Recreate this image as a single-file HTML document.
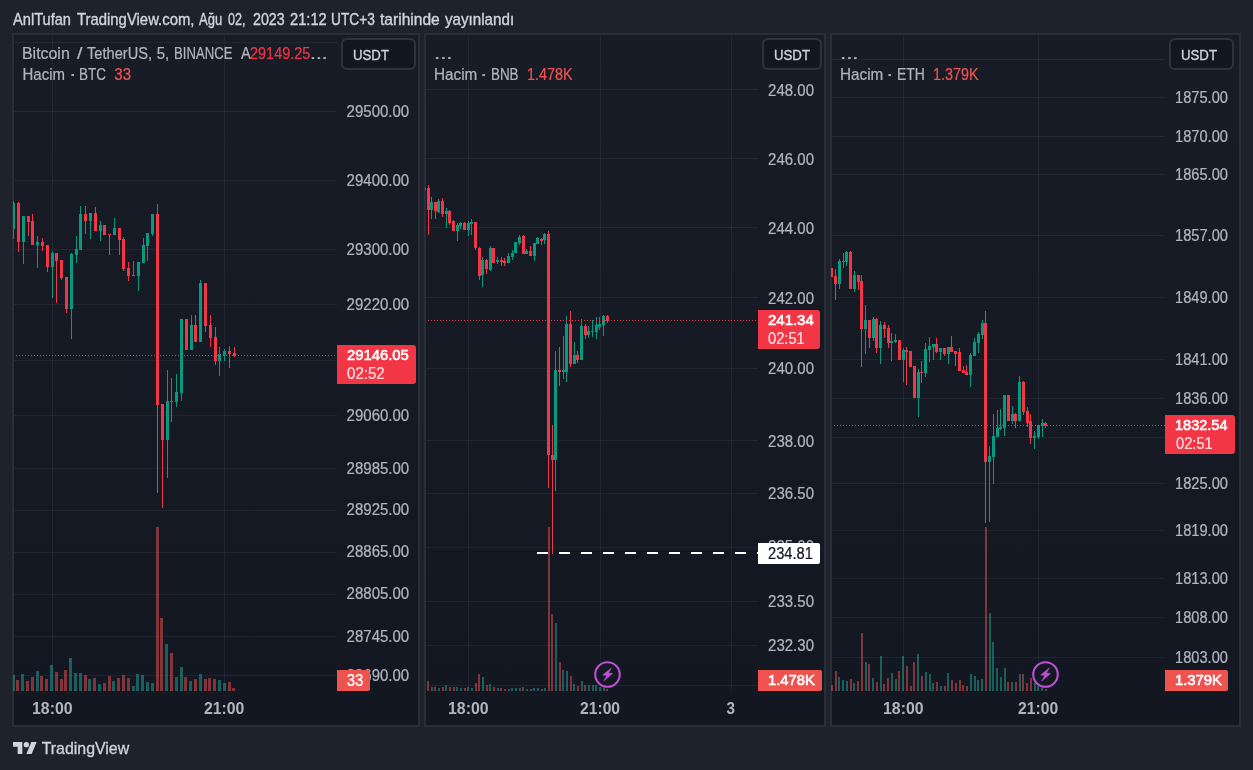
<!DOCTYPE html>
<html><head><meta charset="utf-8"><title>chart</title>
<style>
html,body{margin:0;padding:0}
body{width:1253px;height:770px;background:#1e222d;position:relative;overflow:hidden;font-family:"Liberation Sans",sans-serif}
.p{position:absolute;top:33px;height:690px;border:2px solid #2a2e39;background:linear-gradient(to bottom,#181c27,#131722);box-sizing:content-box}
.t{position:absolute;white-space:nowrap;line-height:normal;transform-origin:0 50%}
.b{position:absolute}
.L{position:absolute;left:0;top:0;width:1253px;height:770px;will-change:transform}
.u{position:absolute;top:38px;height:28px;border:2px solid #2f3341;border-radius:6px;background:#131722;box-sizing:content-box}
svg.g{position:absolute;left:0;top:0}
</style></head><body>
<div class="p" style="left:12px;width:404px"></div>
<div class="p" style="left:424px;width:398px"></div>
<div class="p" style="left:830px;width:407px"></div>
<svg class="g" width="1253" height="770" shape-rendering="crispEdges">
<rect x="14" y="42" width="323" height="1" fill="rgba(240,243,250,0.06)"/>
<rect x="14" y="111" width="323" height="1" fill="rgba(240,243,250,0.06)"/>
<rect x="14" y="180" width="323" height="1" fill="rgba(240,243,250,0.06)"/>
<rect x="14" y="249" width="323" height="1" fill="rgba(240,243,250,0.06)"/>
<rect x="14" y="304" width="323" height="1" fill="rgba(240,243,250,0.06)"/>
<rect x="14" y="360" width="323" height="1" fill="rgba(240,243,250,0.06)"/>
<rect x="14" y="415" width="323" height="1" fill="rgba(240,243,250,0.06)"/>
<rect x="14" y="468" width="323" height="1" fill="rgba(240,243,250,0.06)"/>
<rect x="14" y="510" width="323" height="1" fill="rgba(240,243,250,0.06)"/>
<rect x="14" y="552" width="323" height="1" fill="rgba(240,243,250,0.06)"/>
<rect x="14" y="594" width="323" height="1" fill="rgba(240,243,250,0.06)"/>
<rect x="14" y="636" width="323" height="1" fill="rgba(240,243,250,0.06)"/>
<rect x="14" y="675" width="323" height="1" fill="rgba(240,243,250,0.06)"/>
<rect x="52" y="35" width="1" height="656" fill="rgba(240,243,250,0.06)"/>
<rect x="224" y="35" width="1" height="656" fill="rgba(240,243,250,0.06)"/>
<rect x="13" y="675" width="2" height="16" fill="rgba(38,166,154,0.5)"/>
<rect x="16" y="680" width="3" height="11" fill="rgba(239,83,80,0.5)"/>
<rect x="21" y="674" width="3" height="17" fill="rgba(38,166,154,0.5)"/>
<rect x="26" y="681" width="3" height="10" fill="rgba(239,83,80,0.5)"/>
<rect x="31" y="677" width="3" height="14" fill="rgba(239,83,80,0.5)"/>
<rect x="36" y="671" width="3" height="20" fill="rgba(38,166,154,0.5)"/>
<rect x="40" y="676" width="3" height="15" fill="rgba(239,83,80,0.5)"/>
<rect x="45" y="679" width="3" height="12" fill="rgba(239,83,80,0.5)"/>
<rect x="50" y="665" width="3" height="26" fill="rgba(38,166,154,0.5)"/>
<rect x="55" y="672" width="3" height="19" fill="rgba(239,83,80,0.5)"/>
<rect x="60" y="679" width="3" height="12" fill="rgba(239,83,80,0.5)"/>
<rect x="64" y="670" width="3" height="21" fill="rgba(239,83,80,0.5)"/>
<rect x="69" y="658" width="3" height="33" fill="rgba(38,166,154,0.5)"/>
<rect x="74" y="673" width="3" height="18" fill="rgba(38,166,154,0.5)"/>
<rect x="79" y="673" width="3" height="18" fill="rgba(38,166,154,0.5)"/>
<rect x="84" y="675" width="3" height="16" fill="rgba(239,83,80,0.5)"/>
<rect x="88" y="679" width="3" height="12" fill="rgba(38,166,154,0.5)"/>
<rect x="93" y="678" width="3" height="13" fill="rgba(239,83,80,0.5)"/>
<rect x="98" y="684" width="3" height="7" fill="rgba(38,166,154,0.5)"/>
<rect x="103" y="683" width="3" height="8" fill="rgba(239,83,80,0.5)"/>
<rect x="108" y="676" width="3" height="15" fill="rgba(239,83,80,0.5)"/>
<rect x="112" y="681" width="3" height="10" fill="rgba(38,166,154,0.5)"/>
<rect x="117" y="678" width="3" height="13" fill="rgba(239,83,80,0.5)"/>
<rect x="122" y="675" width="3" height="16" fill="rgba(239,83,80,0.5)"/>
<rect x="127" y="678" width="3" height="13" fill="rgba(239,83,80,0.5)"/>
<rect x="132" y="686" width="3" height="5" fill="rgba(38,166,154,0.5)"/>
<rect x="136" y="674" width="3" height="17" fill="rgba(38,166,154,0.5)"/>
<rect x="141" y="675" width="3" height="16" fill="rgba(38,166,154,0.5)"/>
<rect x="146" y="682" width="3" height="9" fill="rgba(38,166,154,0.5)"/>
<rect x="151" y="683" width="3" height="8" fill="rgba(38,166,154,0.5)"/>
<rect x="156" y="527" width="3" height="164" fill="rgba(239,83,80,0.5)"/>
<rect x="160" y="618" width="3" height="73" fill="rgba(239,83,80,0.5)"/>
<rect x="165" y="644" width="3" height="47" fill="rgba(38,166,154,0.5)"/>
<rect x="170" y="653" width="3" height="38" fill="rgba(239,83,80,0.5)"/>
<rect x="175" y="677" width="3" height="14" fill="rgba(38,166,154,0.5)"/>
<rect x="180" y="667" width="3" height="24" fill="rgba(38,166,154,0.5)"/>
<rect x="184" y="677" width="3" height="14" fill="rgba(239,83,80,0.5)"/>
<rect x="189" y="681" width="3" height="10" fill="rgba(38,166,154,0.5)"/>
<rect x="194" y="679" width="3" height="12" fill="rgba(239,83,80,0.5)"/>
<rect x="199" y="674" width="3" height="17" fill="rgba(38,166,154,0.5)"/>
<rect x="204" y="679" width="3" height="12" fill="rgba(239,83,80,0.5)"/>
<rect x="208" y="678" width="3" height="13" fill="rgba(239,83,80,0.5)"/>
<rect x="213" y="679" width="3" height="12" fill="rgba(239,83,80,0.5)"/>
<rect x="218" y="680" width="3" height="11" fill="rgba(38,166,154,0.5)"/>
<rect x="223" y="683" width="3" height="8" fill="rgba(38,166,154,0.5)"/>
<rect x="228" y="682" width="3" height="9" fill="rgba(239,83,80,0.5)"/>
<rect x="232" y="688" width="3" height="3" fill="rgba(239,83,80,0.5)"/>
<rect x="13" y="201" width="1" height="38" fill="#089981"/>
<rect x="13" y="203" width="2" height="26" fill="#089981"/>
<rect x="18" y="202" width="1" height="50" fill="#f23645"/>
<rect x="17" y="203" width="3" height="39" fill="#f23645"/>
<rect x="23" y="216" width="1" height="48" fill="#089981"/>
<rect x="22" y="216" width="3" height="26" fill="#089981"/>
<rect x="28" y="216" width="1" height="20" fill="#f23645"/>
<rect x="27" y="216" width="3" height="6" fill="#f23645"/>
<rect x="32" y="214" width="1" height="31" fill="#f23645"/>
<rect x="31" y="221" width="3" height="24" fill="#f23645"/>
<rect x="37" y="236" width="1" height="32" fill="#089981"/>
<rect x="36" y="242" width="3" height="3" fill="#089981"/>
<rect x="42" y="238" width="1" height="13" fill="#f23645"/>
<rect x="41" y="242" width="3" height="4" fill="#f23645"/>
<rect x="47" y="245" width="1" height="27" fill="#f23645"/>
<rect x="46" y="245" width="3" height="22" fill="#f23645"/>
<rect x="52" y="251" width="1" height="47" fill="#089981"/>
<rect x="51" y="253" width="3" height="14" fill="#089981"/>
<rect x="56" y="253" width="1" height="50" fill="#f23645"/>
<rect x="55" y="253" width="3" height="8" fill="#f23645"/>
<rect x="61" y="260" width="1" height="20" fill="#f23645"/>
<rect x="60" y="260" width="3" height="18" fill="#f23645"/>
<rect x="66" y="277" width="1" height="36" fill="#f23645"/>
<rect x="65" y="277" width="3" height="32" fill="#f23645"/>
<rect x="71" y="253" width="1" height="86" fill="#089981"/>
<rect x="70" y="254" width="3" height="55" fill="#089981"/>
<rect x="76" y="236" width="1" height="27" fill="#089981"/>
<rect x="75" y="249" width="3" height="6" fill="#089981"/>
<rect x="80" y="206" width="1" height="44" fill="#089981"/>
<rect x="79" y="214" width="3" height="36" fill="#089981"/>
<rect x="85" y="206" width="1" height="28" fill="#f23645"/>
<rect x="84" y="214" width="3" height="7" fill="#f23645"/>
<rect x="90" y="213" width="1" height="26" fill="#089981"/>
<rect x="89" y="213" width="3" height="8" fill="#089981"/>
<rect x="95" y="207" width="1" height="24" fill="#f23645"/>
<rect x="94" y="213" width="3" height="18" fill="#f23645"/>
<rect x="100" y="221" width="1" height="20" fill="#089981"/>
<rect x="99" y="225" width="3" height="6" fill="#089981"/>
<rect x="104" y="225" width="1" height="10" fill="#f23645"/>
<rect x="103" y="225" width="3" height="10" fill="#f23645"/>
<rect x="109" y="234" width="1" height="21" fill="#f23645"/>
<rect x="108" y="234" width="3" height="1" fill="#f23645"/>
<rect x="114" y="218" width="1" height="17" fill="#089981"/>
<rect x="113" y="228" width="3" height="7" fill="#089981"/>
<rect x="119" y="228" width="1" height="27" fill="#f23645"/>
<rect x="118" y="228" width="3" height="12" fill="#f23645"/>
<rect x="123" y="237" width="1" height="34" fill="#f23645"/>
<rect x="122" y="239" width="3" height="30" fill="#f23645"/>
<rect x="128" y="262" width="1" height="19" fill="#f23645"/>
<rect x="127" y="268" width="3" height="8" fill="#f23645"/>
<rect x="133" y="261" width="1" height="15" fill="#089981"/>
<rect x="132" y="275" width="3" height="1" fill="#089981"/>
<rect x="138" y="262" width="1" height="29" fill="#089981"/>
<rect x="137" y="262" width="3" height="14" fill="#089981"/>
<rect x="143" y="238" width="1" height="25" fill="#089981"/>
<rect x="142" y="245" width="3" height="18" fill="#089981"/>
<rect x="147" y="233" width="1" height="28" fill="#089981"/>
<rect x="146" y="233" width="3" height="13" fill="#089981"/>
<rect x="152" y="214" width="1" height="22" fill="#089981"/>
<rect x="151" y="214" width="3" height="20" fill="#089981"/>
<rect x="157" y="204" width="1" height="289" fill="#f23645"/>
<rect x="156" y="214" width="3" height="191" fill="#f23645"/>
<rect x="162" y="404" width="1" height="104" fill="#f23645"/>
<rect x="161" y="404" width="3" height="36" fill="#f23645"/>
<rect x="167" y="370" width="1" height="108" fill="#089981"/>
<rect x="166" y="401" width="3" height="39" fill="#089981"/>
<rect x="171" y="378" width="1" height="44" fill="#f23645"/>
<rect x="170" y="401" width="3" height="1" fill="#f23645"/>
<rect x="176" y="374" width="1" height="33" fill="#089981"/>
<rect x="175" y="392" width="3" height="10" fill="#089981"/>
<rect x="181" y="319" width="1" height="82" fill="#089981"/>
<rect x="180" y="319" width="3" height="74" fill="#089981"/>
<rect x="186" y="319" width="1" height="31" fill="#f23645"/>
<rect x="185" y="319" width="3" height="31" fill="#f23645"/>
<rect x="191" y="315" width="1" height="35" fill="#089981"/>
<rect x="190" y="325" width="3" height="25" fill="#089981"/>
<rect x="195" y="315" width="1" height="27" fill="#f23645"/>
<rect x="194" y="325" width="3" height="17" fill="#f23645"/>
<rect x="200" y="280" width="1" height="62" fill="#089981"/>
<rect x="199" y="283" width="3" height="59" fill="#089981"/>
<rect x="205" y="283" width="1" height="49" fill="#f23645"/>
<rect x="204" y="283" width="3" height="43" fill="#f23645"/>
<rect x="210" y="315" width="1" height="32" fill="#f23645"/>
<rect x="209" y="325" width="3" height="13" fill="#f23645"/>
<rect x="215" y="327" width="1" height="38" fill="#f23645"/>
<rect x="214" y="337" width="3" height="24" fill="#f23645"/>
<rect x="219" y="347" width="1" height="29" fill="#089981"/>
<rect x="218" y="354" width="3" height="7" fill="#089981"/>
<rect x="224" y="349" width="1" height="12" fill="#089981"/>
<rect x="223" y="351" width="3" height="4" fill="#089981"/>
<rect x="229" y="346" width="1" height="22" fill="#f23645"/>
<rect x="228" y="351" width="3" height="3" fill="#f23645"/>
<rect x="234" y="347" width="1" height="10" fill="#f23645"/>
<rect x="233" y="353" width="3" height="3" fill="#f23645"/>
<line x1="16" y1="355.5" x2="337" y2="355.5" stroke="#f23645" stroke-width="1" stroke-dasharray="1 2"/>
<rect x="426" y="89" width="332" height="1" fill="rgba(240,243,250,0.06)"/>
<rect x="426" y="158" width="332" height="1" fill="rgba(240,243,250,0.06)"/>
<rect x="426" y="227" width="332" height="1" fill="rgba(240,243,250,0.06)"/>
<rect x="426" y="297" width="332" height="1" fill="rgba(240,243,250,0.06)"/>
<rect x="426" y="368" width="332" height="1" fill="rgba(240,243,250,0.06)"/>
<rect x="426" y="440" width="332" height="1" fill="rgba(240,243,250,0.06)"/>
<rect x="426" y="493" width="332" height="1" fill="rgba(240,243,250,0.06)"/>
<rect x="426" y="547" width="332" height="1" fill="rgba(240,243,250,0.06)"/>
<rect x="426" y="601" width="332" height="1" fill="rgba(240,243,250,0.06)"/>
<rect x="426" y="645" width="332" height="1" fill="rgba(240,243,250,0.06)"/>
<rect x="426" y="685" width="332" height="1" fill="rgba(240,243,250,0.06)"/>
<rect x="468" y="35" width="1" height="656" fill="rgba(240,243,250,0.06)"/>
<rect x="600" y="35" width="1" height="656" fill="rgba(240,243,250,0.06)"/>
<rect x="731" y="35" width="1" height="656" fill="rgba(240,243,250,0.06)"/>
<rect x="427" y="681" width="2" height="10" fill="rgba(239,83,80,0.5)"/>
<rect x="431" y="687" width="2" height="4" fill="rgba(38,166,154,0.5)"/>
<rect x="434" y="687" width="2" height="4" fill="rgba(239,83,80,0.5)"/>
<rect x="438" y="688" width="2" height="3" fill="rgba(38,166,154,0.5)"/>
<rect x="442" y="687" width="2" height="4" fill="rgba(239,83,80,0.5)"/>
<rect x="445" y="685" width="2" height="6" fill="rgba(38,166,154,0.5)"/>
<rect x="449" y="687" width="2" height="4" fill="rgba(239,83,80,0.5)"/>
<rect x="453" y="687" width="2" height="4" fill="rgba(239,83,80,0.5)"/>
<rect x="456" y="687" width="2" height="4" fill="rgba(38,166,154,0.5)"/>
<rect x="460" y="688" width="2" height="3" fill="rgba(38,166,154,0.5)"/>
<rect x="464" y="688" width="2" height="3" fill="rgba(239,83,80,0.5)"/>
<rect x="467" y="687" width="2" height="4" fill="rgba(38,166,154,0.5)"/>
<rect x="471" y="688" width="2" height="3" fill="rgba(38,166,154,0.5)"/>
<rect x="475" y="683" width="2" height="8" fill="rgba(239,83,80,0.5)"/>
<rect x="478" y="674" width="2" height="17" fill="rgba(239,83,80,0.5)"/>
<rect x="482" y="677" width="2" height="14" fill="rgba(38,166,154,0.5)"/>
<rect x="486" y="685" width="2" height="6" fill="rgba(239,83,80,0.5)"/>
<rect x="489" y="684" width="2" height="7" fill="rgba(38,166,154,0.5)"/>
<rect x="493" y="687" width="2" height="4" fill="rgba(239,83,80,0.5)"/>
<rect x="497" y="688" width="2" height="3" fill="rgba(38,166,154,0.5)"/>
<rect x="500" y="688" width="2" height="3" fill="rgba(239,83,80,0.5)"/>
<rect x="504" y="689" width="2" height="2" fill="rgba(239,83,80,0.5)"/>
<rect x="508" y="689" width="2" height="2" fill="rgba(38,166,154,0.5)"/>
<rect x="511" y="688" width="2" height="3" fill="rgba(38,166,154,0.5)"/>
<rect x="515" y="688" width="2" height="3" fill="rgba(38,166,154,0.5)"/>
<rect x="519" y="688" width="2" height="3" fill="rgba(38,166,154,0.5)"/>
<rect x="522" y="687" width="2" height="4" fill="rgba(239,83,80,0.5)"/>
<rect x="526" y="689" width="2" height="2" fill="rgba(38,166,154,0.5)"/>
<rect x="530" y="689" width="2" height="2" fill="rgba(239,83,80,0.5)"/>
<rect x="533" y="688" width="2" height="3" fill="rgba(38,166,154,0.5)"/>
<rect x="537" y="688" width="2" height="3" fill="rgba(38,166,154,0.5)"/>
<rect x="541" y="689" width="2" height="2" fill="rgba(239,83,80,0.5)"/>
<rect x="544" y="688" width="2" height="3" fill="rgba(38,166,154,0.5)"/>
<rect x="548" y="527" width="2" height="164" fill="rgba(239,83,80,0.5)"/>
<rect x="551" y="614" width="2" height="77" fill="rgba(239,83,80,0.5)"/>
<rect x="555" y="623" width="2" height="68" fill="rgba(38,166,154,0.5)"/>
<rect x="559" y="662" width="2" height="29" fill="rgba(239,83,80,0.5)"/>
<rect x="562" y="670" width="2" height="21" fill="rgba(38,166,154,0.5)"/>
<rect x="566" y="671" width="2" height="20" fill="rgba(38,166,154,0.5)"/>
<rect x="570" y="676" width="2" height="15" fill="rgba(239,83,80,0.5)"/>
<rect x="573" y="684" width="2" height="7" fill="rgba(38,166,154,0.5)"/>
<rect x="577" y="686" width="2" height="5" fill="rgba(239,83,80,0.5)"/>
<rect x="581" y="681" width="2" height="10" fill="rgba(38,166,154,0.5)"/>
<rect x="584" y="685" width="2" height="6" fill="rgba(239,83,80,0.5)"/>
<rect x="588" y="685" width="2" height="6" fill="rgba(38,166,154,0.5)"/>
<rect x="592" y="685" width="2" height="6" fill="rgba(38,166,154,0.5)"/>
<rect x="595" y="685" width="2" height="6" fill="rgba(38,166,154,0.5)"/>
<rect x="599" y="687" width="2" height="4" fill="rgba(38,166,154,0.5)"/>
<rect x="603" y="688" width="2" height="3" fill="rgba(38,166,154,0.5)"/>
<rect x="606" y="689" width="2" height="2" fill="rgba(239,83,80,0.5)"/>
<rect x="425" y="188" width="1" height="2" fill="#089981"/>
<rect x="428" y="185" width="1" height="50" fill="#f23645"/>
<rect x="427" y="188" width="3" height="22" fill="#f23645"/>
<rect x="431" y="197" width="1" height="22" fill="#089981"/>
<rect x="430" y="202" width="3" height="8" fill="#089981"/>
<rect x="435" y="202" width="1" height="17" fill="#f23645"/>
<rect x="434" y="202" width="3" height="9" fill="#f23645"/>
<rect x="438" y="199" width="1" height="14" fill="#089981"/>
<rect x="437" y="201" width="3" height="11" fill="#089981"/>
<rect x="442" y="198" width="1" height="19" fill="#f23645"/>
<rect x="441" y="201" width="3" height="13" fill="#f23645"/>
<rect x="446" y="208" width="1" height="20" fill="#089981"/>
<rect x="445" y="211" width="3" height="3" fill="#089981"/>
<rect x="449" y="210" width="1" height="15" fill="#f23645"/>
<rect x="448" y="211" width="3" height="12" fill="#f23645"/>
<rect x="453" y="220" width="1" height="11" fill="#f23645"/>
<rect x="452" y="221" width="3" height="10" fill="#f23645"/>
<rect x="457" y="223" width="1" height="18" fill="#089981"/>
<rect x="456" y="225" width="3" height="6" fill="#089981"/>
<rect x="460" y="222" width="1" height="7" fill="#089981"/>
<rect x="459" y="223" width="3" height="3" fill="#089981"/>
<rect x="464" y="222" width="1" height="8" fill="#f23645"/>
<rect x="463" y="223" width="3" height="7" fill="#f23645"/>
<rect x="468" y="221" width="1" height="15" fill="#089981"/>
<rect x="467" y="223" width="3" height="7" fill="#089981"/>
<rect x="471" y="219" width="1" height="16" fill="#089981"/>
<rect x="470" y="222" width="3" height="2" fill="#089981"/>
<rect x="475" y="222" width="1" height="28" fill="#f23645"/>
<rect x="474" y="222" width="3" height="26" fill="#f23645"/>
<rect x="479" y="247" width="1" height="33" fill="#f23645"/>
<rect x="478" y="248" width="3" height="28" fill="#f23645"/>
<rect x="482" y="257" width="1" height="30" fill="#089981"/>
<rect x="481" y="260" width="3" height="15" fill="#089981"/>
<rect x="486" y="259" width="1" height="15" fill="#f23645"/>
<rect x="485" y="260" width="3" height="9" fill="#f23645"/>
<rect x="490" y="246" width="1" height="25" fill="#089981"/>
<rect x="489" y="248" width="3" height="22" fill="#089981"/>
<rect x="493" y="248" width="1" height="15" fill="#f23645"/>
<rect x="492" y="248" width="3" height="15" fill="#f23645"/>
<rect x="497" y="257" width="1" height="7" fill="#089981"/>
<rect x="496" y="260" width="3" height="2" fill="#089981"/>
<rect x="501" y="257" width="1" height="9" fill="#f23645"/>
<rect x="500" y="260" width="3" height="2" fill="#f23645"/>
<rect x="504" y="258" width="1" height="8" fill="#f23645"/>
<rect x="503" y="261" width="3" height="2" fill="#f23645"/>
<rect x="508" y="253" width="1" height="10" fill="#089981"/>
<rect x="507" y="256" width="3" height="7" fill="#089981"/>
<rect x="512" y="250" width="1" height="10" fill="#089981"/>
<rect x="511" y="253" width="3" height="4" fill="#089981"/>
<rect x="515" y="242" width="1" height="11" fill="#089981"/>
<rect x="514" y="242" width="3" height="11" fill="#089981"/>
<rect x="519" y="235" width="1" height="10" fill="#089981"/>
<rect x="518" y="237" width="3" height="6" fill="#089981"/>
<rect x="523" y="235" width="1" height="19" fill="#f23645"/>
<rect x="522" y="236" width="3" height="18" fill="#f23645"/>
<rect x="526" y="249" width="1" height="5" fill="#089981"/>
<rect x="525" y="251" width="3" height="3" fill="#089981"/>
<rect x="530" y="246" width="1" height="10" fill="#f23645"/>
<rect x="529" y="251" width="3" height="5" fill="#f23645"/>
<rect x="534" y="243" width="1" height="18" fill="#089981"/>
<rect x="533" y="243" width="3" height="13" fill="#089981"/>
<rect x="537" y="237" width="1" height="7" fill="#089981"/>
<rect x="536" y="238" width="3" height="6" fill="#089981"/>
<rect x="541" y="238" width="1" height="7" fill="#f23645"/>
<rect x="540" y="239" width="3" height="2" fill="#f23645"/>
<rect x="544" y="233" width="1" height="11" fill="#089981"/>
<rect x="543" y="234" width="3" height="6" fill="#089981"/>
<rect x="548" y="231" width="1" height="257" fill="#f23645"/>
<rect x="547" y="234" width="3" height="221" fill="#f23645"/>
<rect x="552" y="425" width="1" height="129" fill="#f23645"/>
<rect x="551" y="455" width="3" height="5" fill="#f23645"/>
<rect x="555" y="351" width="1" height="140" fill="#089981"/>
<rect x="554" y="370" width="3" height="90" fill="#089981"/>
<rect x="559" y="347" width="1" height="39" fill="#f23645"/>
<rect x="558" y="370" width="3" height="2" fill="#f23645"/>
<rect x="563" y="336" width="1" height="43" fill="#089981"/>
<rect x="562" y="370" width="3" height="2" fill="#089981"/>
<rect x="566" y="316" width="1" height="66" fill="#089981"/>
<rect x="565" y="324" width="3" height="48" fill="#089981"/>
<rect x="570" y="311" width="1" height="56" fill="#f23645"/>
<rect x="569" y="324" width="3" height="40" fill="#f23645"/>
<rect x="574" y="342" width="1" height="22" fill="#089981"/>
<rect x="573" y="355" width="3" height="9" fill="#089981"/>
<rect x="577" y="351" width="1" height="12" fill="#f23645"/>
<rect x="576" y="355" width="3" height="5" fill="#f23645"/>
<rect x="581" y="319" width="1" height="41" fill="#089981"/>
<rect x="580" y="326" width="3" height="34" fill="#089981"/>
<rect x="585" y="324" width="1" height="15" fill="#f23645"/>
<rect x="584" y="326" width="3" height="9" fill="#f23645"/>
<rect x="588" y="326" width="1" height="12" fill="#089981"/>
<rect x="587" y="331" width="3" height="4" fill="#089981"/>
<rect x="592" y="320" width="1" height="17" fill="#089981"/>
<rect x="591" y="331" width="3" height="1" fill="#089981"/>
<rect x="596" y="317" width="1" height="22" fill="#089981"/>
<rect x="595" y="325" width="3" height="7" fill="#089981"/>
<rect x="599" y="317" width="1" height="13" fill="#089981"/>
<rect x="598" y="324" width="3" height="3" fill="#089981"/>
<rect x="603" y="315" width="1" height="21" fill="#089981"/>
<rect x="602" y="316" width="3" height="9" fill="#089981"/>
<rect x="607" y="315" width="1" height="8" fill="#f23645"/>
<rect x="606" y="316" width="3" height="5" fill="#f23645"/>
<line x1="428" y1="320.5" x2="758" y2="320.5" stroke="#f23645" stroke-width="1" stroke-dasharray="1 2"/>
<line x1="537" y1="553" x2="758" y2="553" stroke="#fff" stroke-width="2" stroke-dasharray="10.5 11.5"/>
<rect x="832" y="59" width="333" height="1" fill="rgba(240,243,250,0.06)"/>
<rect x="832" y="97" width="333" height="1" fill="rgba(240,243,250,0.06)"/>
<rect x="832" y="136" width="333" height="1" fill="rgba(240,243,250,0.06)"/>
<rect x="832" y="174" width="333" height="1" fill="rgba(240,243,250,0.06)"/>
<rect x="832" y="235" width="333" height="1" fill="rgba(240,243,250,0.06)"/>
<rect x="832" y="297" width="333" height="1" fill="rgba(240,243,250,0.06)"/>
<rect x="832" y="359" width="333" height="1" fill="rgba(240,243,250,0.06)"/>
<rect x="832" y="398" width="333" height="1" fill="rgba(240,243,250,0.06)"/>
<rect x="832" y="437" width="333" height="1" fill="rgba(240,243,250,0.06)"/>
<rect x="832" y="483" width="333" height="1" fill="rgba(240,243,250,0.06)"/>
<rect x="832" y="530" width="333" height="1" fill="rgba(240,243,250,0.06)"/>
<rect x="832" y="578" width="333" height="1" fill="rgba(240,243,250,0.06)"/>
<rect x="832" y="617" width="333" height="1" fill="rgba(240,243,250,0.06)"/>
<rect x="832" y="657" width="333" height="1" fill="rgba(240,243,250,0.06)"/>
<rect x="903" y="35" width="1" height="656" fill="rgba(240,243,250,0.06)"/>
<rect x="1038" y="35" width="1" height="656" fill="rgba(240,243,250,0.06)"/>
<rect x="831" y="685" width="2" height="6" fill="rgba(239,83,80,0.5)"/>
<rect x="835" y="671" width="2" height="20" fill="rgba(239,83,80,0.5)"/>
<rect x="838" y="677" width="2" height="14" fill="rgba(38,166,154,0.5)"/>
<rect x="842" y="680" width="2" height="11" fill="rgba(38,166,154,0.5)"/>
<rect x="846" y="681" width="2" height="10" fill="rgba(38,166,154,0.5)"/>
<rect x="850" y="679" width="2" height="12" fill="rgba(239,83,80,0.5)"/>
<rect x="853" y="683" width="2" height="8" fill="rgba(38,166,154,0.5)"/>
<rect x="857" y="681" width="2" height="10" fill="rgba(239,83,80,0.5)"/>
<rect x="861" y="633" width="2" height="58" fill="rgba(239,83,80,0.5)"/>
<rect x="865" y="662" width="2" height="29" fill="rgba(38,166,154,0.5)"/>
<rect x="868" y="664" width="2" height="27" fill="rgba(239,83,80,0.5)"/>
<rect x="872" y="678" width="2" height="13" fill="rgba(38,166,154,0.5)"/>
<rect x="876" y="682" width="2" height="9" fill="rgba(239,83,80,0.5)"/>
<rect x="880" y="656" width="2" height="35" fill="rgba(38,166,154,0.5)"/>
<rect x="883" y="684" width="2" height="7" fill="rgba(239,83,80,0.5)"/>
<rect x="887" y="678" width="2" height="13" fill="rgba(239,83,80,0.5)"/>
<rect x="891" y="673" width="2" height="18" fill="rgba(38,166,154,0.5)"/>
<rect x="895" y="679" width="2" height="12" fill="rgba(38,166,154,0.5)"/>
<rect x="898" y="671" width="2" height="20" fill="rgba(239,83,80,0.5)"/>
<rect x="902" y="656" width="2" height="35" fill="rgba(38,166,154,0.5)"/>
<rect x="906" y="666" width="2" height="25" fill="rgba(239,83,80,0.5)"/>
<rect x="910" y="686" width="2" height="5" fill="rgba(239,83,80,0.5)"/>
<rect x="913" y="662" width="2" height="29" fill="rgba(239,83,80,0.5)"/>
<rect x="917" y="654" width="2" height="37" fill="rgba(38,166,154,0.5)"/>
<rect x="921" y="676" width="2" height="15" fill="rgba(239,83,80,0.5)"/>
<rect x="925" y="672" width="2" height="19" fill="rgba(38,166,154,0.5)"/>
<rect x="929" y="674" width="2" height="17" fill="rgba(38,166,154,0.5)"/>
<rect x="932" y="683" width="2" height="8" fill="rgba(38,166,154,0.5)"/>
<rect x="936" y="682" width="2" height="9" fill="rgba(239,83,80,0.5)"/>
<rect x="940" y="686" width="2" height="5" fill="rgba(38,166,154,0.5)"/>
<rect x="944" y="686" width="2" height="5" fill="rgba(239,83,80,0.5)"/>
<rect x="947" y="673" width="2" height="18" fill="rgba(38,166,154,0.5)"/>
<rect x="951" y="680" width="2" height="11" fill="rgba(239,83,80,0.5)"/>
<rect x="955" y="683" width="2" height="8" fill="rgba(239,83,80,0.5)"/>
<rect x="959" y="680" width="2" height="11" fill="rgba(239,83,80,0.5)"/>
<rect x="962" y="685" width="2" height="6" fill="rgba(239,83,80,0.5)"/>
<rect x="966" y="686" width="2" height="5" fill="rgba(239,83,80,0.5)"/>
<rect x="970" y="674" width="2" height="17" fill="rgba(38,166,154,0.5)"/>
<rect x="974" y="676" width="2" height="15" fill="rgba(38,166,154,0.5)"/>
<rect x="977" y="680" width="2" height="11" fill="rgba(38,166,154,0.5)"/>
<rect x="981" y="679" width="2" height="12" fill="rgba(38,166,154,0.5)"/>
<rect x="985" y="527" width="2" height="164" fill="rgba(239,83,80,0.5)"/>
<rect x="989" y="613" width="2" height="78" fill="rgba(38,166,154,0.5)"/>
<rect x="992" y="642" width="2" height="49" fill="rgba(38,166,154,0.5)"/>
<rect x="996" y="668" width="2" height="23" fill="rgba(38,166,154,0.5)"/>
<rect x="1000" y="677" width="2" height="14" fill="rgba(38,166,154,0.5)"/>
<rect x="1004" y="668" width="2" height="23" fill="rgba(38,166,154,0.5)"/>
<rect x="1007" y="682" width="2" height="9" fill="rgba(239,83,80,0.5)"/>
<rect x="1011" y="682" width="2" height="9" fill="rgba(38,166,154,0.5)"/>
<rect x="1015" y="682" width="2" height="9" fill="rgba(239,83,80,0.5)"/>
<rect x="1019" y="674" width="2" height="17" fill="rgba(38,166,154,0.5)"/>
<rect x="1022" y="674" width="2" height="17" fill="rgba(239,83,80,0.5)"/>
<rect x="1026" y="683" width="2" height="8" fill="rgba(239,83,80,0.5)"/>
<rect x="1030" y="678" width="2" height="13" fill="rgba(239,83,80,0.5)"/>
<rect x="1034" y="683" width="2" height="8" fill="rgba(38,166,154,0.5)"/>
<rect x="1037" y="686" width="2" height="5" fill="rgba(38,166,154,0.5)"/>
<rect x="1041" y="688" width="2" height="3" fill="rgba(38,166,154,0.5)"/>
<rect x="1045" y="689" width="2" height="2" fill="rgba(239,83,80,0.5)"/>
<rect x="831" y="268" width="1" height="9" fill="#f23645"/>
<rect x="831" y="268" width="2" height="9" fill="#f23645"/>
<rect x="835" y="269" width="1" height="31" fill="#f23645"/>
<rect x="834" y="276" width="3" height="8" fill="#f23645"/>
<rect x="839" y="259" width="1" height="30" fill="#089981"/>
<rect x="838" y="261" width="3" height="23" fill="#089981"/>
<rect x="843" y="253" width="1" height="15" fill="#089981"/>
<rect x="842" y="261" width="3" height="1" fill="#089981"/>
<rect x="846" y="251" width="1" height="15" fill="#089981"/>
<rect x="845" y="252" width="3" height="10" fill="#089981"/>
<rect x="850" y="251" width="1" height="38" fill="#f23645"/>
<rect x="849" y="252" width="3" height="37" fill="#f23645"/>
<rect x="854" y="271" width="1" height="21" fill="#089981"/>
<rect x="853" y="275" width="3" height="14" fill="#089981"/>
<rect x="858" y="275" width="1" height="15" fill="#f23645"/>
<rect x="857" y="275" width="3" height="7" fill="#f23645"/>
<rect x="861" y="275" width="1" height="92" fill="#f23645"/>
<rect x="860" y="281" width="3" height="48" fill="#f23645"/>
<rect x="865" y="305" width="1" height="49" fill="#089981"/>
<rect x="864" y="320" width="3" height="9" fill="#089981"/>
<rect x="869" y="320" width="1" height="28" fill="#f23645"/>
<rect x="868" y="320" width="3" height="18" fill="#f23645"/>
<rect x="873" y="317" width="1" height="24" fill="#089981"/>
<rect x="872" y="319" width="3" height="19" fill="#089981"/>
<rect x="876" y="318" width="1" height="35" fill="#f23645"/>
<rect x="875" y="319" width="3" height="29" fill="#f23645"/>
<rect x="880" y="321" width="1" height="43" fill="#089981"/>
<rect x="879" y="325" width="3" height="23" fill="#089981"/>
<rect x="884" y="322" width="1" height="16" fill="#f23645"/>
<rect x="883" y="325" width="3" height="4" fill="#f23645"/>
<rect x="888" y="325" width="1" height="23" fill="#f23645"/>
<rect x="887" y="328" width="3" height="15" fill="#f23645"/>
<rect x="891" y="333" width="1" height="28" fill="#089981"/>
<rect x="890" y="341" width="3" height="2" fill="#089981"/>
<rect x="895" y="334" width="1" height="9" fill="#089981"/>
<rect x="894" y="340" width="3" height="2" fill="#089981"/>
<rect x="899" y="340" width="1" height="20" fill="#f23645"/>
<rect x="898" y="340" width="3" height="20" fill="#f23645"/>
<rect x="903" y="348" width="1" height="34" fill="#089981"/>
<rect x="902" y="350" width="3" height="10" fill="#089981"/>
<rect x="906" y="347" width="1" height="38" fill="#f23645"/>
<rect x="905" y="350" width="3" height="2" fill="#f23645"/>
<rect x="910" y="351" width="1" height="16" fill="#f23645"/>
<rect x="909" y="351" width="3" height="16" fill="#f23645"/>
<rect x="914" y="366" width="1" height="32" fill="#f23645"/>
<rect x="913" y="366" width="3" height="32" fill="#f23645"/>
<rect x="918" y="369" width="1" height="48" fill="#089981"/>
<rect x="917" y="372" width="3" height="26" fill="#089981"/>
<rect x="921" y="361" width="1" height="22" fill="#f23645"/>
<rect x="920" y="372" width="3" height="1" fill="#f23645"/>
<rect x="925" y="343" width="1" height="34" fill="#089981"/>
<rect x="924" y="349" width="3" height="24" fill="#089981"/>
<rect x="929" y="337" width="1" height="25" fill="#089981"/>
<rect x="928" y="346" width="3" height="4" fill="#089981"/>
<rect x="933" y="344" width="1" height="16" fill="#089981"/>
<rect x="932" y="344" width="3" height="3" fill="#089981"/>
<rect x="936" y="338" width="1" height="15" fill="#f23645"/>
<rect x="935" y="344" width="3" height="8" fill="#f23645"/>
<rect x="940" y="348" width="1" height="12" fill="#089981"/>
<rect x="939" y="348" width="3" height="4" fill="#089981"/>
<rect x="944" y="348" width="1" height="8" fill="#f23645"/>
<rect x="943" y="348" width="3" height="6" fill="#f23645"/>
<rect x="948" y="347" width="1" height="17" fill="#089981"/>
<rect x="947" y="347" width="3" height="7" fill="#089981"/>
<rect x="951" y="336" width="1" height="16" fill="#f23645"/>
<rect x="950" y="347" width="3" height="5" fill="#f23645"/>
<rect x="955" y="351" width="1" height="15" fill="#f23645"/>
<rect x="954" y="351" width="3" height="3" fill="#f23645"/>
<rect x="959" y="348" width="1" height="23" fill="#f23645"/>
<rect x="958" y="352" width="3" height="19" fill="#f23645"/>
<rect x="963" y="366" width="1" height="7" fill="#f23645"/>
<rect x="962" y="370" width="3" height="3" fill="#f23645"/>
<rect x="966" y="365" width="1" height="10" fill="#f23645"/>
<rect x="965" y="372" width="3" height="3" fill="#f23645"/>
<rect x="970" y="353" width="1" height="34" fill="#089981"/>
<rect x="969" y="355" width="3" height="20" fill="#089981"/>
<rect x="974" y="338" width="1" height="18" fill="#089981"/>
<rect x="973" y="342" width="3" height="14" fill="#089981"/>
<rect x="978" y="332" width="1" height="21" fill="#089981"/>
<rect x="977" y="334" width="3" height="9" fill="#089981"/>
<rect x="982" y="320" width="1" height="19" fill="#089981"/>
<rect x="981" y="323" width="3" height="12" fill="#089981"/>
<rect x="985" y="311" width="1" height="212" fill="#f23645"/>
<rect x="984" y="323" width="3" height="139" fill="#f23645"/>
<rect x="989" y="446" width="1" height="76" fill="#089981"/>
<rect x="988" y="456" width="3" height="6" fill="#089981"/>
<rect x="993" y="414" width="1" height="70" fill="#089981"/>
<rect x="992" y="436" width="3" height="21" fill="#089981"/>
<rect x="997" y="410" width="1" height="27" fill="#089981"/>
<rect x="996" y="428" width="3" height="9" fill="#089981"/>
<rect x="1000" y="409" width="1" height="21" fill="#089981"/>
<rect x="999" y="427" width="3" height="2" fill="#089981"/>
<rect x="1004" y="395" width="1" height="41" fill="#089981"/>
<rect x="1003" y="395" width="3" height="33" fill="#089981"/>
<rect x="1008" y="395" width="1" height="26" fill="#f23645"/>
<rect x="1007" y="395" width="3" height="26" fill="#f23645"/>
<rect x="1012" y="406" width="1" height="18" fill="#089981"/>
<rect x="1011" y="414" width="3" height="7" fill="#089981"/>
<rect x="1015" y="413" width="1" height="15" fill="#f23645"/>
<rect x="1014" y="414" width="3" height="7" fill="#f23645"/>
<rect x="1019" y="376" width="1" height="45" fill="#089981"/>
<rect x="1018" y="382" width="3" height="39" fill="#089981"/>
<rect x="1023" y="381" width="1" height="34" fill="#f23645"/>
<rect x="1022" y="382" width="3" height="30" fill="#f23645"/>
<rect x="1027" y="407" width="1" height="20" fill="#f23645"/>
<rect x="1026" y="411" width="3" height="12" fill="#f23645"/>
<rect x="1030" y="414" width="1" height="30" fill="#f23645"/>
<rect x="1029" y="421" width="3" height="17" fill="#f23645"/>
<rect x="1034" y="431" width="1" height="18" fill="#089981"/>
<rect x="1033" y="436" width="3" height="2" fill="#089981"/>
<rect x="1038" y="425" width="1" height="14" fill="#089981"/>
<rect x="1037" y="425" width="3" height="12" fill="#089981"/>
<rect x="1042" y="419" width="1" height="18" fill="#089981"/>
<rect x="1041" y="423" width="3" height="3" fill="#089981"/>
<rect x="1045" y="422" width="1" height="6" fill="#f23645"/>
<rect x="1044" y="423" width="3" height="3" fill="#f23645"/>
<line x1="834" y1="425.5" x2="1165" y2="425.5" stroke="#f23645" stroke-width="1" stroke-dasharray="1 2"/>
<g shape-rendering="auto" transform="translate(607.5,674.5)"><circle r="12.25" fill="#141823" stroke="#bd50d4" stroke-width="2.1"/><path d="M3.9,-6.5 L-4.8,0.4 L-0.6,1.1 L-3.7,6.5 L5.1,-1.0 L0.9,-1.6 Z" fill="#bd50d4" stroke="#bd50d4" stroke-width="0.6" stroke-linejoin="round"/></g>
<g shape-rendering="auto" transform="translate(1045.5,674.5)"><circle r="12.25" fill="#141823" stroke="#bd50d4" stroke-width="2.1"/><path d="M3.9,-6.5 L-4.8,0.4 L-0.6,1.1 L-3.7,6.5 L5.1,-1.0 L0.9,-1.6 Z" fill="#bd50d4" stroke="#bd50d4" stroke-width="0.6" stroke-linejoin="round"/></g>
</svg>
<div class="L">
<span id="t1" class="t" style="left:12.80px;top:11px;font-size:15px;color:#d1d4dc;transform:scale(0.9750,1.05);transform-origin:0 14px;-webkit-text-stroke:0.35px #d1d4dc;">AnlTufan</span>
<span id="t2" class="t" style="left:76.90px;top:11px;font-size:15px;color:#d1d4dc;transform:scale(0.9919,1.05);transform-origin:0 14px;-webkit-text-stroke:0.35px #d1d4dc;">TradingView.com,</span>
<span id="t3" class="t" style="left:199.30px;top:11px;font-size:15px;color:#d1d4dc;transform:scale(0.8685,1.05);transform-origin:0 14px;-webkit-text-stroke:0.35px #d1d4dc;">Ağu</span>
<span id="t4" class="t" style="left:227.92px;top:11px;font-size:15px;color:#d1d4dc;transform:scale(0.8370,1.05);transform-origin:0 14px;-webkit-text-stroke:0.35px #d1d4dc;">02,</span>
<span id="t5" class="t" style="left:252.60px;top:11px;font-size:15px;color:#d1d4dc;transform:scale(0.9491,1.05);transform-origin:0 14px;-webkit-text-stroke:0.35px #d1d4dc;">2023</span>
<span id="t6" class="t" style="left:289.60px;top:11px;font-size:15px;color:#d1d4dc;transform:scale(0.9775,1.05);transform-origin:0 14px;-webkit-text-stroke:0.35px #d1d4dc;">21:12</span>
<span id="t7" class="t" style="left:330.84px;top:11px;font-size:15px;color:#d1d4dc;transform:scale(0.9126,1.05);transform-origin:0 14px;-webkit-text-stroke:0.35px #d1d4dc;">UTC+3</span>
<span id="t8" class="t" style="left:379.98px;top:11px;font-size:15px;color:#d1d4dc;transform:scale(1.0382,1.05);transform-origin:0 14px;-webkit-text-stroke:0.35px #d1d4dc;">tarihinde</span>
<span id="t9" class="t" style="left:444.50px;top:11px;font-size:15px;color:#d1d4dc;transform:scale(1.0110,1.05);transform-origin:0 14px;-webkit-text-stroke:0.35px #d1d4dc;">yayınlandı</span>
<span id="t10" class="t" style="left:22.46px;top:45px;font-size:15px;color:#b2b5be;transform:scale(1.0604,1.05);transform-origin:0 14px;-webkit-text-stroke:0.22px #b2b5be;">Bitcoin</span>
<span id="t11" class="t" style="left:76.90px;top:45px;font-size:15px;color:#b2b5be;transform:scale(1.3086,1.05);transform-origin:0 14px;-webkit-text-stroke:0.22px #b2b5be;">/</span>
<span id="t12" class="t" style="left:87.30px;top:45px;font-size:15px;color:#b2b5be;transform:scale(0.9748,1.05);transform-origin:0 14px;-webkit-text-stroke:0.22px #b2b5be;">TetherUS,</span>
<span id="t13" class="t" style="left:156.75px;top:45px;font-size:15px;color:#b2b5be;transform:scale(1.0000,1.05);transform-origin:0 14px;-webkit-text-stroke:0.22px #b2b5be;">5,</span>
<span id="t14" class="t" style="left:174.05px;top:45px;font-size:15px;color:#b2b5be;transform:scale(0.8762,1.05);transform-origin:0 14px;-webkit-text-stroke:0.22px #b2b5be;">BINANCE</span>
<span id="t15" class="t" style="left:241.20px;top:45px;font-size:15px;color:#b2b5be;transform:scale(0.9727,1.05);transform-origin:0 14px;-webkit-text-stroke:0.22px #b2b5be;">A</span>
<span id="t16" class="t" style="left:250.03px;top:45px;font-size:15px;color:#f23645;transform:scale(0.9650,1.05);transform-origin:0 14px;-webkit-text-stroke:0.22px #f23645;">29149.25</span>
<span id="t17" class="t" style="left:309.73px;top:45px;font-size:15px;color:#b2b5be;transform:scale(1.4174,1.05);transform-origin:0 14px;-webkit-text-stroke:0.22px #b2b5be;">...</span>
<span id="t18" class="t" style="left:22.46px;top:66px;font-size:15px;color:#b2b5be;transform:scale(1.0000,1.05);transform-origin:0 14px;-webkit-text-stroke:0.22px #b2b5be;">Hacim</span>
<span id="t19" class="t" style="left:69.23px;top:66px;font-size:15px;color:#b2b5be;transform:scale(1.5161,1.05);transform-origin:0 14px;-webkit-text-stroke:0.22px #b2b5be;">·</span>
<span id="t20" class="t" style="left:78.60px;top:66px;font-size:15px;color:#b2b5be;transform:scale(0.8993,1.05);transform-origin:0 14px;-webkit-text-stroke:0.22px #b2b5be;">BTC</span>
<span id="t21" class="t" style="left:114.34px;top:66px;font-size:15px;color:#ef5350;transform:scale(1.0000,1.05);transform-origin:0 14px;-webkit-text-stroke:0.22px #ef5350;">33</span>
<span id="t22" class="t" style="left:434.33px;top:45px;font-size:15px;color:#b2b5be;transform:scale(1.4791,1.05);transform-origin:0 14px;-webkit-text-stroke:0.22px #b2b5be;">...</span>
<span id="t23" class="t" style="left:434.18px;top:66px;font-size:15px;color:#b2b5be;transform:scale(1.0186,1.05);transform-origin:0 14px;-webkit-text-stroke:0.22px #b2b5be;">Hacim</span>
<span id="t24" class="t" style="left:480.29px;top:66px;font-size:15px;color:#b2b5be;transform:scale(1.5203,1.05);transform-origin:0 14px;-webkit-text-stroke:0.22px #b2b5be;">·</span>
<span id="t25" class="t" style="left:491.05px;top:66px;font-size:15px;color:#b2b5be;transform:scale(0.8935,1.05);transform-origin:0 14px;-webkit-text-stroke:0.22px #b2b5be;">BNB</span>
<span id="t26" class="t" style="left:527.11px;top:66px;font-size:15px;color:#ef5350;transform:scale(0.9599,1.05);transform-origin:0 14px;-webkit-text-stroke:0.22px #ef5350;">1.478K</span>
<span id="t27" class="t" style="left:840.33px;top:45px;font-size:15px;color:#b2b5be;transform:scale(1.4791,1.05);transform-origin:0 14px;-webkit-text-stroke:0.22px #b2b5be;">...</span>
<span id="t28" class="t" style="left:840.18px;top:66px;font-size:15px;color:#b2b5be;transform:scale(1.0186,1.05);transform-origin:0 14px;-webkit-text-stroke:0.22px #b2b5be;">Hacim</span>
<span id="t29" class="t" style="left:886.29px;top:66px;font-size:15px;color:#b2b5be;transform:scale(1.5203,1.05);transform-origin:0 14px;-webkit-text-stroke:0.22px #b2b5be;">·</span>
<span id="t30" class="t" style="left:897.05px;top:66px;font-size:15px;color:#b2b5be;transform:scale(0.9294,1.05);transform-origin:0 14px;-webkit-text-stroke:0.22px #b2b5be;">ETH</span>
<span id="t31" class="t" style="left:933.11px;top:66px;font-size:15px;color:#ef5350;transform:scale(0.9599,1.05);transform-origin:0 14px;-webkit-text-stroke:0.22px #ef5350;">1.379K</span>
<span id="t35" class="t" style="left:346.62px;top:103px;font-size:15px;color:#b2b5be;transform:scale(1.0000,1.05);transform-origin:0 14px;-webkit-text-stroke:0.22px #b2b5be;">29500.00</span>
<span id="t36" class="t" style="left:346.62px;top:172px;font-size:15px;color:#b2b5be;transform:scale(1.0000,1.05);transform-origin:0 14px;-webkit-text-stroke:0.22px #b2b5be;">29400.00</span>
<span id="t37" class="t" style="left:346.62px;top:241px;font-size:15px;color:#b2b5be;transform:scale(1.0000,1.05);transform-origin:0 14px;-webkit-text-stroke:0.22px #b2b5be;">29300.00</span>
<span id="t38" class="t" style="left:346.62px;top:296px;font-size:15px;color:#b2b5be;transform:scale(1.0000,1.05);transform-origin:0 14px;-webkit-text-stroke:0.22px #b2b5be;">29220.00</span>
<span id="t39" class="t" style="left:346.62px;top:407px;font-size:15px;color:#b2b5be;transform:scale(1.0000,1.05);transform-origin:0 14px;-webkit-text-stroke:0.22px #b2b5be;">29060.00</span>
<span id="t40" class="t" style="left:346.62px;top:460px;font-size:15px;color:#b2b5be;transform:scale(1.0000,1.05);transform-origin:0 14px;-webkit-text-stroke:0.22px #b2b5be;">28985.00</span>
<span id="t41" class="t" style="left:346.62px;top:501px;font-size:15px;color:#b2b5be;transform:scale(1.0000,1.05);transform-origin:0 14px;-webkit-text-stroke:0.22px #b2b5be;">28925.00</span>
<span id="t42" class="t" style="left:346.62px;top:543px;font-size:15px;color:#b2b5be;transform:scale(1.0000,1.05);transform-origin:0 14px;-webkit-text-stroke:0.22px #b2b5be;">28865.00</span>
<span id="t43" class="t" style="left:346.62px;top:585px;font-size:15px;color:#b2b5be;transform:scale(1.0000,1.05);transform-origin:0 14px;-webkit-text-stroke:0.22px #b2b5be;">28805.00</span>
<span id="t44" class="t" style="left:346.62px;top:628px;font-size:15px;color:#b2b5be;transform:scale(1.0000,1.05);transform-origin:0 14px;-webkit-text-stroke:0.22px #b2b5be;">28745.00</span>
<span id="t45" class="t" style="left:346.62px;top:667px;font-size:15px;color:#b2b5be;transform:scale(1.0000,1.05);transform-origin:0 14px;-webkit-text-stroke:0.22px #b2b5be;">28690.00</span>
<span id="t46" class="t" style="left:768.10px;top:82px;font-size:15px;color:#b2b5be;transform:scale(1.0000,1.05);transform-origin:0 14px;-webkit-text-stroke:0.22px #b2b5be;">248.00</span>
<span id="t47" class="t" style="left:768.10px;top:151px;font-size:15px;color:#b2b5be;transform:scale(1.0000,1.05);transform-origin:0 14px;-webkit-text-stroke:0.22px #b2b5be;">246.00</span>
<span id="t48" class="t" style="left:768.10px;top:220px;font-size:15px;color:#b2b5be;transform:scale(1.0000,1.05);transform-origin:0 14px;-webkit-text-stroke:0.22px #b2b5be;">244.00</span>
<span id="t49" class="t" style="left:768.10px;top:290px;font-size:15px;color:#b2b5be;transform:scale(1.0000,1.05);transform-origin:0 14px;-webkit-text-stroke:0.22px #b2b5be;">242.00</span>
<span id="t50" class="t" style="left:768.10px;top:360px;font-size:15px;color:#b2b5be;transform:scale(1.0000,1.05);transform-origin:0 14px;-webkit-text-stroke:0.22px #b2b5be;">240.00</span>
<span id="t51" class="t" style="left:768.10px;top:433px;font-size:15px;color:#b2b5be;transform:scale(1.0000,1.05);transform-origin:0 14px;-webkit-text-stroke:0.22px #b2b5be;">238.00</span>
<span id="t52" class="t" style="left:768.10px;top:485px;font-size:15px;color:#b2b5be;transform:scale(1.0000,1.05);transform-origin:0 14px;-webkit-text-stroke:0.22px #b2b5be;">236.50</span>
<span id="t53" class="t" style="left:768.10px;top:538px;font-size:15px;color:#b2b5be;transform:scale(1.0000,1.05);transform-origin:0 14px;-webkit-text-stroke:0.22px #b2b5be;">235.00</span>
<span id="t54" class="t" style="left:768.10px;top:593px;font-size:15px;color:#b2b5be;transform:scale(1.0000,1.05);transform-origin:0 14px;-webkit-text-stroke:0.22px #b2b5be;">233.50</span>
<span id="t55" class="t" style="left:768.10px;top:637px;font-size:15px;color:#b2b5be;transform:scale(1.0000,1.05);transform-origin:0 14px;-webkit-text-stroke:0.22px #b2b5be;">232.30</span>
<span id="t56" class="t" style="left:1175.10px;top:89px;font-size:15px;color:#b2b5be;transform:scale(0.9775,1.05);transform-origin:0 14px;-webkit-text-stroke:0.22px #b2b5be;">1875.00</span>
<span id="t57" class="t" style="left:1175.10px;top:128px;font-size:15px;color:#b2b5be;transform:scale(0.9775,1.05);transform-origin:0 14px;-webkit-text-stroke:0.22px #b2b5be;">1870.00</span>
<span id="t58" class="t" style="left:1175.10px;top:166px;font-size:15px;color:#b2b5be;transform:scale(0.9775,1.05);transform-origin:0 14px;-webkit-text-stroke:0.22px #b2b5be;">1865.00</span>
<span id="t59" class="t" style="left:1175.10px;top:227px;font-size:15px;color:#b2b5be;transform:scale(0.9775,1.05);transform-origin:0 14px;-webkit-text-stroke:0.22px #b2b5be;">1857.00</span>
<span id="t60" class="t" style="left:1175.10px;top:289px;font-size:15px;color:#b2b5be;transform:scale(0.9775,1.05);transform-origin:0 14px;-webkit-text-stroke:0.22px #b2b5be;">1849.00</span>
<span id="t61" class="t" style="left:1175.10px;top:351px;font-size:15px;color:#b2b5be;transform:scale(0.9775,1.05);transform-origin:0 14px;-webkit-text-stroke:0.22px #b2b5be;">1841.00</span>
<span id="t62" class="t" style="left:1175.10px;top:390px;font-size:15px;color:#b2b5be;transform:scale(0.9775,1.05);transform-origin:0 14px;-webkit-text-stroke:0.22px #b2b5be;">1836.00</span>
<span id="t63" class="t" style="left:1175.10px;top:475px;font-size:15px;color:#b2b5be;transform:scale(0.9774,1.05);transform-origin:0 14px;-webkit-text-stroke:0.22px #b2b5be;">1825.00</span>
<span id="t64" class="t" style="left:1175.10px;top:522px;font-size:15px;color:#b2b5be;transform:scale(0.9774,1.05);transform-origin:0 14px;-webkit-text-stroke:0.22px #b2b5be;">1819.00</span>
<span id="t65" class="t" style="left:1175.10px;top:570px;font-size:15px;color:#b2b5be;transform:scale(0.9774,1.05);transform-origin:0 14px;-webkit-text-stroke:0.22px #b2b5be;">1813.00</span>
<span id="t66" class="t" style="left:1175.10px;top:609px;font-size:15px;color:#b2b5be;transform:scale(0.9774,1.05);transform-origin:0 14px;-webkit-text-stroke:0.22px #b2b5be;">1808.00</span>
<span id="t67" class="t" style="left:1175.10px;top:649px;font-size:15px;color:#b2b5be;transform:scale(0.9774,1.05);transform-origin:0 14px;-webkit-text-stroke:0.22px #b2b5be;">1803.00</span>
<span id="t68" class="t" style="left:31.78px;top:700px;font-size:15.2px;color:#b2b5be;transform:scale(1.0434,1.1);transform-origin:0 14px;font-weight:700;-webkit-text-stroke:0.01px #b2b5be;">18:00</span>
<span id="t69" class="t" style="left:204.42px;top:700px;font-size:15.2px;color:#b2b5be;transform:scale(1.0396,1.1);transform-origin:0 14px;font-weight:700;-webkit-text-stroke:0.01px #b2b5be;">21:00</span>
<span id="t70" class="t" style="left:447.78px;top:700px;font-size:15.2px;color:#b2b5be;transform:scale(1.0434,1.1);transform-origin:0 14px;font-weight:700;-webkit-text-stroke:0.01px #b2b5be;">18:00</span>
<span id="t71" class="t" style="left:580.10px;top:700px;font-size:15.2px;color:#b2b5be;transform:scale(1.0310,1.1);transform-origin:0 14px;font-weight:700;-webkit-text-stroke:0.01px #b2b5be;">21:00</span>
<span id="t72" class="t" style="left:882.78px;top:700px;font-size:15.2px;color:#b2b5be;transform:scale(1.0434,1.1);transform-origin:0 14px;font-weight:700;-webkit-text-stroke:0.01px #b2b5be;">18:00</span>
<span id="t73" class="t" style="left:1017.69px;top:700px;font-size:15.2px;color:#b2b5be;transform:scale(1.0323,1.1);transform-origin:0 14px;font-weight:700;-webkit-text-stroke:0.01px #b2b5be;">21:00</span>
<span id="t74" class="t" style="left:726.60px;top:700px;font-size:15.2px;color:#b2b5be;transform:scale(1.0000,1.1);transform-origin:0 14px;font-weight:700;-webkit-text-stroke:0.01px #b2b5be;">3</span>
<span id="t85" class="t" style="left:41.70px;top:740px;font-size:15.9px;color:#d1d4dc;transform:scale(1.0000,1.05);transform-origin:0 15px;-webkit-text-stroke:0.3px #d1d4dc;">TradingView</span>
<div class="u" style="left:341.4px;width:70.4px"></div>
<div class="u" style="left:762px;width:56px"></div>
<div class="u" style="left:1169px;width:61px"></div>
<span id="t32" class="t" style="left:352.88px;top:47px;font-size:14.4px;color:#d1d4dc;transform:scale(0.9190,1.05);transform-origin:0 13px;-webkit-text-stroke:0.35px #d1d4dc;">USDT</span>
<span id="t33" class="t" style="left:773.68px;top:47px;font-size:14.4px;color:#d1d4dc;transform:scale(0.9190,1.05);transform-origin:0 13px;-webkit-text-stroke:0.35px #d1d4dc;">USDT</span>
<span id="t34" class="t" style="left:1180.68px;top:47px;font-size:14.4px;color:#d1d4dc;transform:scale(0.9190,1.05);transform-origin:0 13px;-webkit-text-stroke:0.35px #d1d4dc;">USDT</span>
<div class="b" style="left:337px;top:345px;width:79px;height:39px;background:#f23645;border-radius:0 3px 3px 0"></div>
<div class="b" style="left:758px;top:310px;width:62px;height:39px;background:#f23645;border-radius:0 3px 3px 0"></div>
<div class="b" style="left:1165px;top:415px;width:70px;height:39px;background:#f23645;border-radius:0 3px 3px 0"></div>
<div class="b" style="left:758px;top:543px;width:62px;height:21px;background:#fff;border-radius:0 2px 2px 0"></div>
<div class="b" style="left:337px;top:670px;width:33px;height:21px;background:#ef5350;border-radius:0 2px 2px 0"></div>
<div class="b" style="left:758px;top:670px;width:64px;height:21px;background:#ef5350;border-radius:0 2px 2px 0"></div>
<div class="b" style="left:1165px;top:670px;width:63px;height:21px;background:#ef5350;border-radius:0 2px 2px 0"></div>
<span id="t75" class="t" style="left:347.10px;top:347px;font-size:14.3px;color:#fff;transform:scale(1.0352,1.0);transform-origin:0 13px;-webkit-text-stroke:0.6px #fff;">29146.05</span>
<span id="t76" class="t" style="left:347.10px;top:365px;font-size:15px;color:rgba(255,255,255,0.8);transform:scale(1.0000,1.05);transform-origin:0 14px;-webkit-text-stroke:0.22px rgba(255,255,255,0.8);">02:52</span>
<span id="t77" class="t" style="left:768.10px;top:312px;font-size:14.3px;color:#fff;transform:scale(1.0456,1.0);transform-origin:0 13px;-webkit-text-stroke:0.6px #fff;">241.34</span>
<span id="t78" class="t" style="left:768.10px;top:330px;font-size:15px;color:rgba(255,255,255,0.8);transform:scale(0.9788,1.05);transform-origin:0 14px;-webkit-text-stroke:0.22px rgba(255,255,255,0.8);">02:51</span>
<span id="t79" class="t" style="left:1175.18px;top:417px;font-size:14.3px;color:#fff;transform:scale(1.0150,1.0);transform-origin:0 13px;-webkit-text-stroke:0.6px #fff;">1832.54</span>
<span id="t80" class="t" style="left:1176.10px;top:435px;font-size:15px;color:rgba(255,255,255,0.8);transform:scale(0.9788,1.05);transform-origin:0 14px;-webkit-text-stroke:0.22px rgba(255,255,255,0.8);">02:51</span>
<span id="t81" class="t" style="left:767.62px;top:545px;font-size:15px;color:#131722;transform:scale(0.9761,1.05);transform-origin:0 14px;-webkit-text-stroke:0.22px #131722;">234.81</span>
<span id="t82" class="t" style="left:346.64px;top:672px;font-size:15px;color:#fff;transform:scale(1.0000,1.05);transform-origin:0 14px;-webkit-text-stroke:0.22px #fff;">33</span>
<span id="t83" class="t" style="left:767.98px;top:672px;font-size:14.3px;color:#fff;transform:scale(1.0354,1.0);transform-origin:0 13px;-webkit-text-stroke:0.6px #fff;">1.478K</span>
<span id="t84" class="t" style="left:1175.18px;top:672px;font-size:14.3px;color:#fff;transform:scale(1.0354,1.0);transform-origin:0 13px;-webkit-text-stroke:0.6px #fff;">1.379K</span>
<svg style="position:absolute;left:13.2px;top:742px" width="24" height="12" viewBox="0 0 36 18"><path fill="#d1d4dc" d="M14 18H7V7H0V0h14v18zM24 4a4 4 0 1 1-8 0 4 4 0 0 1 8 0zM28 18h-8l7.5-18h8L28 18z"/></svg>
</div>
</body></html>
